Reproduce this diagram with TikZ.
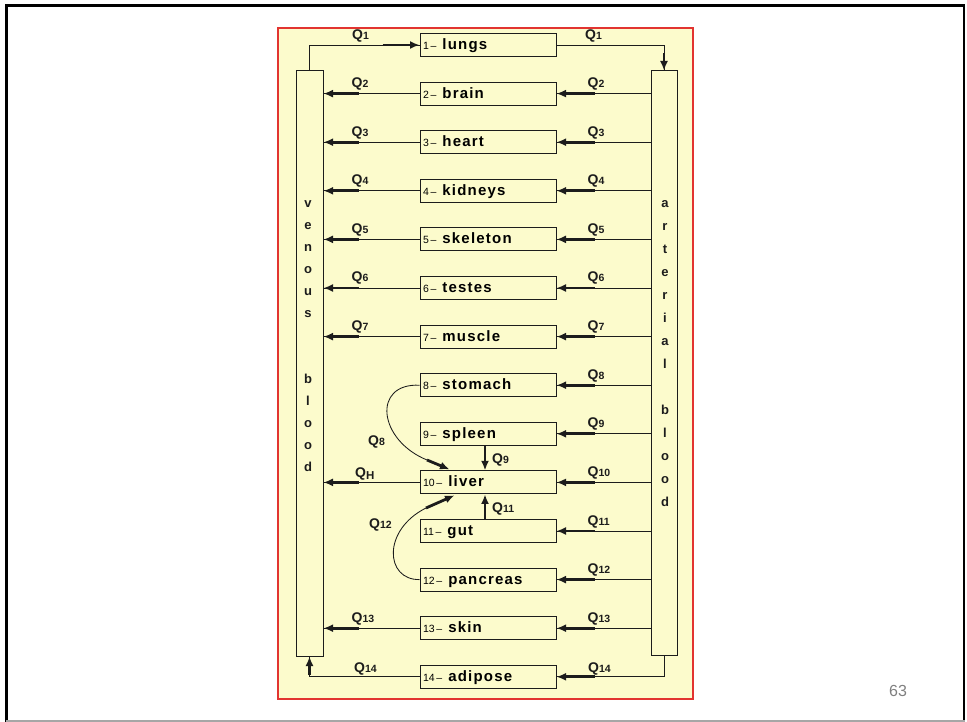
\documentclass[tikz,border=0pt]{standalone}
\usepackage{fontspec}
\setmainfont{Liberation Sans}
\newfontfamily\wordfont[LetterSpace=8]{Liberation Sans}
\usetikzlibrary{arrows.meta,calc}
\definecolor{panel}{RGB}{252,251,204}
\definecolor{panelred}{RGB}{226,52,48}
\definecolor{ink}{RGB}{28,28,28}
\newcommand{\organ}[2]{{\fontsize{10.5}{10.5}\selectfont #1\,--}\hspace{6pt}{\wordfont\bfseries\fontsize{15}{15}\selectfont #2}}
\newcommand{\qlab}[1]{{\bfseries\fontsize{14}{14}\selectfont Q}{\bfseries\fontsize{10.5}{10.5}\selectfont #1}}
\tikzset{
  organbox/.style={draw=ink, line width=1pt, minimum height=23pt, text width=130pt,
    inner xsep=3pt, inner ysep=0pt, align=left, text height=11pt, text depth=2pt},
  bloodbar/.style={draw=ink, line width=1pt, minimum width=27pt, inner sep=0pt},
  flow/.style={draw=ink, line width=0.85pt},
  tip/.style={draw=ink, line width=2.8pt, -{Latex[length=9.5pt,width=8pt]}},
  qtxt/.style={anchor=base west, inner sep=0pt, text=ink},
  bartxt/.style={align=center, inner sep=0pt, anchor=north, text=ink,
    font=\bfseries\fontsize{13}{22}\selectfont}
}
\begin{document}
\begin{tikzpicture}[x=1pt,y=-1pt]
\useasboundingbox (0,0) rectangle (967,722);
\fill[white] (0,0) rectangle (967,722);
% slide frame
\draw[line width=2.5pt, black] (6.5,722) -- (6.5,5.5) -- (964,5.5) -- (964,722);
\draw[line width=1.2pt, gray!70] (6,721) -- (965,721);
% panel
\draw[panelred, line width=1.4pt, fill=panel] (278,28) rectangle (693,699);
% page number
\node[text=gray, font=\fontsize{16}{16}\selectfont, inner sep=0pt] (pg) at (898,691) {63};

% blood bars
\node[bloodbar, minimum height=585pt] (ven) at (309.5,363.5) {};
\node[bloodbar, minimum height=584pt, minimum width=26pt] (art) at (664,363) {};
\node[bartxt] (ventxt) at (308,200) {v\\e\\n\\o\\u\\s\\[44pt]b\\l\\o\\o\\d};
\node[bartxt, font=\bfseries\fontsize{13}{23}\selectfont] (arttxt) at (665,200) {a\\r\\t\\e\\r\\i\\a\\l\\[23pt]b\\l\\o\\o\\d};

% organ boxes
\foreach \i/\n in {1/lungs,2/brain,3/heart,4/kidneys,5/skeleton,6/testes,7/muscle,8/stomach,9/spleen,10/liver,11/gut,12/pancreas,13/skin,14/adipose}{
  \node[organbox] (b\i) at (488,{45+(\i-1)*48.6}) {\organ{\i}{\n}};
}

% lungs loop
\draw[flow] (ven.north) |- (b1.west);
\draw[tip] ($(b1.west)+(-37,0)$) -- (b1.west);
\draw[flow] (b1.east) -| (art.north);
\draw[tip] ($(art.north)+(0,-17)$) -- (art.north);
\node[qtxt] (q1l) at (352,40) {\qlab{1}};
\node[qtxt] (q1r) at (585,40) {\qlab{1}};

% arterial -> organ (right side)
\foreach \i in {2,...,13}{
  \draw[flow] (art.west |- b\i.east) -- (b\i.east);
  \draw[tip] ($(b\i.east)+(38,0)$) -- (b\i.east);
  \node[qtxt] (qr\i) at ($(b\i.east)+(31,-6)$) {\qlab{\i}};
}

% organ -> venous (left side)
\foreach \i in {2,...,7,13}{
  \draw[flow] (b\i.west) -- (ven.east |- b\i.west);
  \draw[tip] ($(ven.east |- b\i.west)+(35,0)$) -- (ven.east |- b\i.west);
  \node[qtxt] (ql\i) at ($(b\i.west)+(-68,-6)$) {\qlab{\i}};
}

% liver -> venous
\draw[flow] (b10.west) -- (ven.east |- b10.west);
\draw[tip] ($(ven.east |- b10.west)+(35,0)$) -- (ven.east |- b10.west);
\node[qtxt] (qh) at (355,477) {{\bfseries\fontsize{14}{14}\selectfont Q}\raisebox{-2.5pt}{\bfseries\fontsize{11.5}{11.5}\selectfont H}};

% stomach -> liver
\coordinate (s8) at (427,460);
\draw[flow] (b8.west) .. controls (372,383) and (378,440) .. (s8);
\draw[tip] (s8) -- ($(b10.north west)+(30,-1)$);
\node[qtxt] (q8c) at (368,445) {\qlab{8}};

% spleen -> liver
\draw[tip] ($(b9.south)+(-3,0)$) -- ($(b10.north)+(-3,0)$);
\node[qtxt] (q9c) at (492,463) {\qlab{9}};

% gut -> liver
\draw[tip] ($(b11.north)+(-3,0)$) -- ($(b10.south)+(-3,0)$);
\node[qtxt] (q11c) at (492,512) {\qlab{11}};

% pancreas -> liver
\coordinate (s12) at (426,508);
\draw[flow] (b12.west) .. controls (385,580) and (382,530) .. (s12);
\draw[tip] (s12) -- ($(b10.south west)+(35,1)$);
\node[qtxt] (q12c) at (369,528) {\qlab{12}};

% adipose
\draw[flow] (art.south) |- (b14.east);
\draw[tip] ($(b14.east)+(38,0)$) -- (b14.east);
\draw[flow] (b14.west) -| (ven.south);
\draw[tip] ($(ven.south)+(0,18)$) -- (ven.south);
\node[qtxt] (q14l) at (354,672) {\qlab{14}};
\node[qtxt] (q14r) at (588,672) {\qlab{14}};
\end{tikzpicture}
\end{document}
